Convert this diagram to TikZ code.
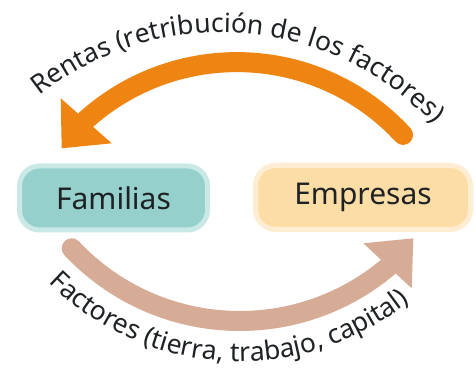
\documentclass[tikz,border=0pt]{standalone}
\usepackage{fontspec}
\setmainfont{Noto Sans}
\usetikzlibrary{decorations.text,calc}
\definecolor{arrowor}{RGB}{238,132,18}
\definecolor{arrowtan}{RGB}{214,172,150}
\definecolor{tealfill}{RGB}{150,208,205}
\definecolor{tealedge}{RGB}{202,232,229}
\definecolor{peachfill}{RGB}{253,221,166}
\definecolor{peachedge}{RGB}{254,237,210}
\definecolor{txt}{RGB}{30,34,36}
\tikzset{
  agent/.style={rounded corners=20pt, line width=5pt, minimum height=64pt,
    inner sep=0pt, text=txt, font=\fontsize{30}{36}\selectfont},
  flow/.style={line width=20pt, line cap=round}
}
\begin{document}
\begin{tikzpicture}[x=1pt,y=1pt]
\useasboundingbox (0,0) rectangle (476,371);
\fill[white] (0,0) rectangle (476,371);
% nodes
\node[agent, fill=tealfill, draw=tealedge, minimum width=188pt] (fam) at (113.5,173) {Familias};
\node[agent, fill=peachfill, draw=peachedge, minimum width=215pt] (emp) at (363,173.5) {Empresas};
% arc centres
\coordinate (oc) at (236.9,82.9);
\coordinate (tc) at (239.7,280.5);
\coordinate (otc) at (221.2,46.4);
% top orange arrow (Empresas -> Familias)
\coordinate (otail) at ($(oc)+(42.67:226pt)$);
\draw[flow, arrowor] (otail) arc[start angle=42.67, end angle=132.1, radius=226pt];
\coordinate (ohA) at (60.7,272.7);
\coordinate (ohT) at (61.7,222.7);
\coordinate (ohB) at (111.7,227.7);
\fill[arrowor] (ohA) -- (ohT) -- (ohB) -- cycle;
% bottom tan arrow (Familias -> Empresas)
\coordinate (ttail) at ($(tc)+(223.2:230.5pt)$);
\draw[flow, arrowtan] (ttail) arc[start angle=223.2, end angle=310.15, radius=230.5pt];
\coordinate (thA) at (363.3,127.7);
\coordinate (thT) at (413.3,132.7);
\coordinate (thB) at (411.7,82.7);
\fill[arrowtan] (thA) -- (thT) -- (thB) -- cycle;
% curved labels
\coordinate (ts) at ($(otc)+(140.85:292pt)$);
\path[decorate, decoration={text along path, text align=center,
  text={|\fontsize{26.5}{30}\selectfont\color{txt}|Rentas (retribución de los factores)}}]
  (ts) arc[start angle=140.85, end angle=30.85, radius=292pt];
\coordinate (bs) at ($(tc)+(212.5:271pt)$);
\path[decorate, decoration={text along path, text align=center,
  text={|\fontsize{26.5}{30}\selectfont\color{txt}|Factores (tierra, trabajo, capital)}}]
  (bs) arc[start angle=212.5, end angle=321.4, radius=271pt];
\end{tikzpicture}
\end{document}
